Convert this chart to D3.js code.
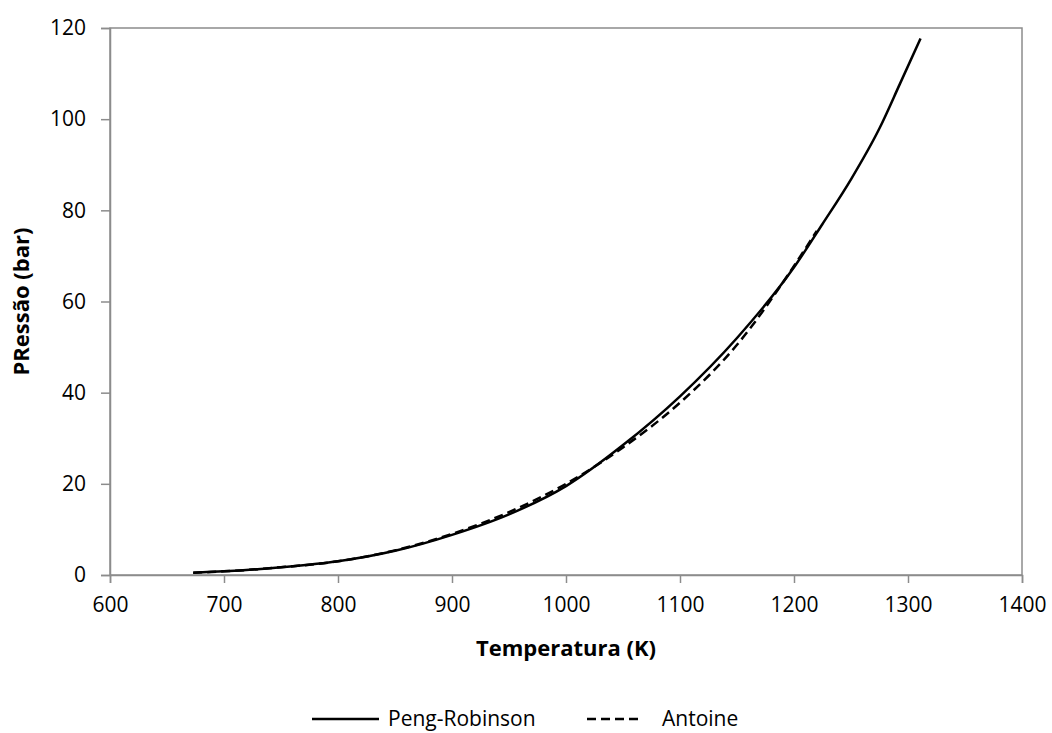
<!DOCTYPE html>
<html>
<head>
<meta charset="utf-8">
<script src="https://cdn.jsdelivr.net/npm/d3@7"></script>
<style>
  body { margin: 0; background: #fff; }
  svg { display: block; font-family: "Open Sans", sans-serif; }
</style>
</head>
<body>
<svg id="chart" width="1052" height="733"></svg>
<script>
// Peng-Robinson curve (T in K, P in bar)
const prTemps = [673, 700, 750, 800, 850, 900, 950, 1000, 1050, 1100, 1150, 1200, 1225, 1250, 1275, 1293, 1311];
const prPress = [0.5, 0.8, 1.7, 3.0, 5.3, 8.8, 13.3, 19.5, 28.5, 39.2, 52.0, 67.5, 77.0, 86.8, 98.0, 107.8, 117.7];

// Antoine curve
const antTemps = [673, 700, 750, 800, 850, 900, 950, 1000, 1050, 1100, 1150, 1200, 1220];
const antPress = [0.5, 0.8, 1.7, 3.0, 5.4, 9.0, 13.8, 20.0, 28.0, 37.8, 50.5, 67.8, 75.5];

const xTicks = [600, 700, 800, 900, 1000, 1100, 1200, 1300, 1400];
const yTicks = [0, 20, 40, 60, 80, 100, 120];

const svg = d3.select("#chart");
const plotLeft = 110, plotRight = 1022, plotTop = 28, plotBottom = 575;

const x = d3.scaleLinear().domain([600, 1400]).range([plotLeft, plotRight]);
const y = d3.scaleLinear().domain([0, 120]).range([plotBottom, plotTop]);

const axisColor = "#8c8c8c";

// plot box
svg.append("rect")
  .attr("x", plotLeft).attr("y", plotTop)
  .attr("width", plotRight - plotLeft).attr("height", plotBottom - plotTop)
  .attr("fill", "none")
  .attr("stroke", axisColor)
  .attr("stroke-width", 1.5);

const xAxis = svg.append("g")
  .attr("transform", `translate(0,${plotBottom})`)
  .call(d3.axisBottom(x).tickValues(xTicks).tickSize(8).tickPadding(14).tickFormat(d3.format("d")));

const yAxis = svg.append("g")
  .attr("transform", `translate(${plotLeft},0)`)
  .call(d3.axisLeft(y).tickValues(yTicks).tickSize(9).tickPadding(15).tickFormat(d3.format("d")));

[xAxis, yAxis].forEach((g) => {
  g.select(".domain").attr("stroke", axisColor).attr("stroke-width", 1.5);
  g.selectAll(".tick line").attr("stroke", axisColor).attr("stroke-width", 1.5);
  g.selectAll(".tick text")
    .attr("fill", "#000")
    .style("font-size", "21px")
    .style("font-family", "'Open Sans', sans-serif");
});

const line = d3.line()
  .x((d) => x(d[0]))
  .y((d) => y(d[1]))
  .curve(d3.curveMonotoneX);

const prData = prTemps.map((t, i) => [t, prPress[i]]);
const antData = antTemps.map((t, i) => [t, antPress[i]]);

svg.append("path")
  .datum(prData)
  .attr("fill", "none")
  .attr("stroke", "#000")
  .attr("stroke-width", 2.5)
  .attr("d", line);

svg.append("path")
  .datum(antData)
  .attr("fill", "none")
  .attr("stroke", "#000")
  .attr("stroke-width", 2.5)
  .attr("stroke-dasharray", "9,5")
  .attr("d", line);

// axis titles
svg.append("text")
  .attr("x", (plotLeft + plotRight) / 2)
  .attr("y", 656)
  .attr("text-anchor", "middle")
  .style("font-size", "22px")
  .style("font-weight", "bold")
  .text("Temperatura (K)");

svg.append("text")
  .attr("transform", `translate(29,${(plotTop + plotBottom) / 2}) rotate(-90)`)
  .attr("text-anchor", "middle")
  .style("font-size", "22px")
  .style("font-weight", "bold")
  .text("PRessão (bar)");

// legend
const legend = [
  { label: "Peng-Robinson", dash: null, x1: 312, x2: 379, tx: 388 },
  { label: "Antoine", dash: "9,5", x1: 587, x2: 641, tx: 662 },
];
legend.forEach((item) => {
  svg.append("line")
    .attr("x1", item.x1).attr("x2", item.x2)
    .attr("y1", 719).attr("y2", 719)
    .attr("stroke", "#000")
    .attr("stroke-width", 2.5)
    .attr("stroke-dasharray", item.dash);
  svg.append("text")
    .attr("x", item.tx)
    .attr("y", 726)
    .style("font-size", "21px")
    .text(item.label);
});
</script>
</body>
</html>
